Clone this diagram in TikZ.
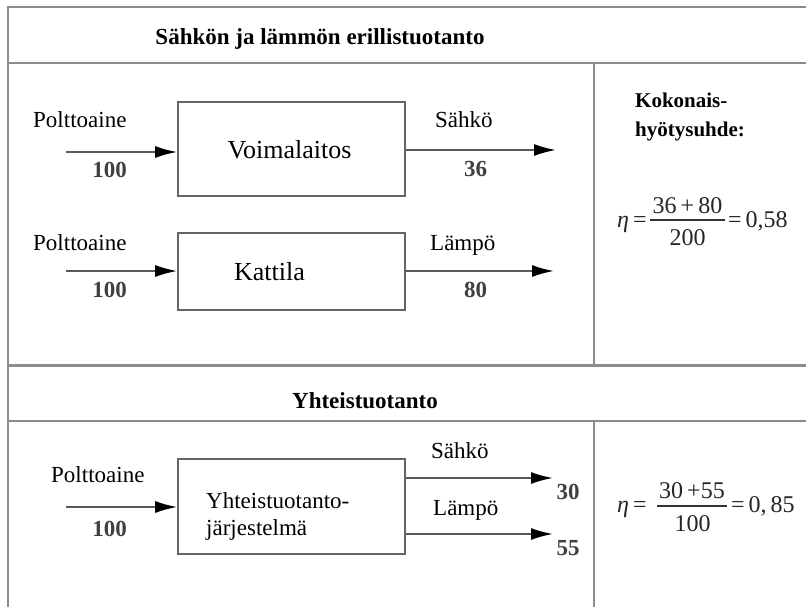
\documentclass[tikz,border=0pt]{standalone}
\usepackage{fontspec}
\setmainfont{Liberation Serif}
\usetikzlibrary{arrows.meta}
\begin{document}
\begin{tikzpicture}[x=1pt,y=-1pt,
  frame/.style={line width=2.2pt, draw=black!45},
  blk/.style={draw=black!60, line width=1.6pt, inner sep=0pt},
  flow/.style={line width=1.9pt, draw=black!65, -{Latex[length=22pt,width=12pt,color=black]}},
  lbl/.style={font=\fontsize{23}{27}\selectfont, inner sep=0pt},
  num/.style={font=\fontsize{23}{27}\selectfont\bfseries, text=black!75, inner sep=0pt},
  ttl/.style={font=\fontsize{23}{27}\selectfont\bfseries, inner sep=0pt},
  sub/.style={font=\fontsize{21}{25}\selectfont\bfseries, inner sep=0pt},
  big/.style={font=\fontsize{26}{30}\selectfont, inner sep=0pt},
  frm/.style={font=\fontsize{24}{28}\selectfont, text=black!85, inner sep=0pt},
  bar/.style={line width=1.1pt, draw=black!80}]
\fill[white] (0,0) rectangle (806,607);
\useasboundingbox (0,0) rectangle (806,607);
% frame lines
\coordinate (tl) at (8,7);
\coordinate (tr) at (806,7);
\coordinate (bl) at (8,607);
\coordinate (h1l) at (8,63);   \coordinate (h1r) at (806,63);
\coordinate (h2l) at (8,365.5); \coordinate (h2r) at (806,365.5);
\coordinate (h3l) at (8,421);  \coordinate (h3r) at (806,421);
\coordinate (v1t) at (594,63); \coordinate (v1b) at (594,365.5);
\coordinate (v2t) at (594,421); \coordinate (v2b) at (594,607);
\draw[frame] (tr) -- (tl) -- (bl);
\draw[frame] (h1l) -- (h1r);
\draw[frame] (h2l) -- (h2r);
\draw[frame] (h3l) -- (h3r);
\draw[frame] (v1t) -- (v1b);
\draw[frame] (v2t) -- (v2b);
% titles
\node[ttl, anchor=base] (t1) at (320,45) {Sähkön ja lämmön erillistuotanto};
\node[ttl, anchor=base] (t2) at (365,408) {Yhteistuotanto};
% boxes
\node[blk, minimum width=227pt, minimum height=94pt] (voima) at (291.5,149) {};
\node[blk, minimum width=227pt, minimum height=77pt] (katt) at (291.5,271.5) {};
\node[blk, minimum width=227pt, minimum height=95pt] (yht) at (291.5,506.5) {};
\node[big, anchor=base] (voimat) at (289.5,158) {Voimalaitos};
\node[big, anchor=base] (kattt) at (269.5,280) {Kattila};
\node[lbl, anchor=base west] (yhtt1) at (206,508) {Yhteistuotanto-};
\node[lbl, anchor=base west] (yhtt2) at (206,535) {järjestelmä};
% row 1
\coordinate (i1) at (66,152);
\coordinate (o1) at (556,150);
\draw[flow] (i1) -- (i1 -| voima.west);
\draw[flow] (o1 -| voima.east) -- (o1);
\node[lbl, anchor=base west] (p1) at (33,128) {Polttoaine};
\node[num, anchor=base] (n100a) at (109.5,177) {100};
\node[lbl, anchor=base west] (s1) at (435,128) {Sähkö};
\node[num, anchor=base] (n36) at (475.5,176) {36};
% row 2
\coordinate (i2) at (66,271);
\coordinate (o2) at (554,271);
\draw[flow] (i2) -- (i2 -| katt.west);
\draw[flow] (o2 -| katt.east) -- (o2);
\node[lbl, anchor=base west] (p2) at (33,250) {Polttoaine};
\node[num, anchor=base] (n100b) at (109.5,297) {100};
\node[lbl, anchor=base west] (l2) at (430,250) {Lämpö};
\node[num, anchor=base] (n80) at (475.5,297) {80};
% row 3
\coordinate (i3) at (66,507);
\coordinate (o3a) at (553,478);
\coordinate (o3b) at (553,534);
\draw[flow] (i3) -- (i3 -| yht.west);
\draw[flow] (o3a -| yht.east) -- (o3a);
\draw[flow] (o3b -| yht.east) -- (o3b);
\node[lbl, anchor=base west] (p3) at (51,482) {Polttoaine};
\node[num, anchor=base] (n100c) at (109.5,536) {100};
\node[lbl, anchor=base west] (s3) at (431,458) {Sähkö};
\node[num, anchor=base] (n30) at (568,499) {30};
\node[lbl, anchor=base west] (l3) at (433,515) {Lämpö};
\node[num, anchor=base] (n55) at (568,555) {55};
% right column upper
\node[sub, anchor=base west] (k1) at (635,108) {Kokonais-};
\node[sub, anchor=base west] (k2) at (635,137) {hyötysuhde:};
\node[frm, anchor=base west] (e1) at (617,227) {\textit{η}\,=};
\coordinate (b1l) at (650,220); \coordinate (b1r) at (725,220);
\draw[bar] (b1l) -- (b1r);
\node[frm, anchor=base] (num1) at (687.5,213) {36\,+\,80};
\node[frm, anchor=base] (den1) at (687.5,245) {200};
\node[frm, anchor=base west] (r1) at (728,227) {=\,0,58};
% right column lower
\node[frm, anchor=base west] (e2) at (617,512) {\textit{η}\,=};
\coordinate (b2l) at (657,506); \coordinate (b2r) at (727,506);
\draw[bar] (b2l) -- (b2r);
\node[frm, anchor=base] (num2) at (692,498) {30\,+55};
\node[frm, anchor=base] (den2) at (692.5,531) {100};
\node[frm, anchor=base west] (r2) at (731,512) {=\,0,\,85};
\end{tikzpicture}
\end{document}
